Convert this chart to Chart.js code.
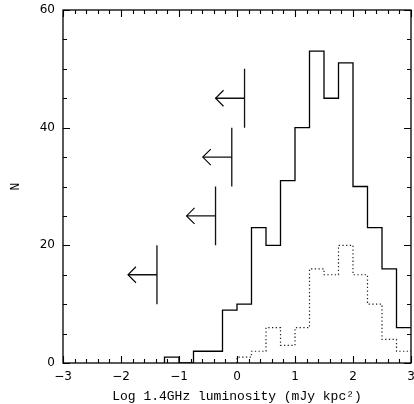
<!DOCTYPE html>
<html>
<head>
<meta charset="utf-8">
<script src="https://cdn.jsdelivr.net/npm/chart.js@4.4.1/dist/chart.umd.min.js"></script>
<style>
  html, body { margin: 0; padding: 0; background: #fff; }
  canvas { display: block; }
</style>
</head>
<body>
<canvas id="lumChart" width="414" height="404"></canvas>
<script>
// histogram bins (left edges), width 0.25 dex
const BIN_WIDTH = 0.25;
const allEdges = [-1.25, -1.0, -0.75, -0.5, -0.25, 0, 0.25, 0.5, 0.75, 1.0, 1.25, 1.5, 1.75, 2.0, 2.25, 2.5, 2.75];
const allCounts = [1, 0, 2, 2, 9, 10, 23, 20, 31, 40, 53, 45, 51, 30, 23, 16, 6];
const subEdges = [0, 0.25, 0.5, 0.75, 1.0, 1.25, 1.5, 1.75, 2.0, 2.25, 2.5, 2.75];
const subCounts = [1, 2, 6, 3, 6, 16, 15, 20, 15, 10, 4, 2];

// upper limits: x of the bar, y centre, bar half-height, arrow length
const limitX = [0.13, -0.09, -0.37, -1.38];
const limitY = [45, 35, 25, 15];
const LIMIT_HALF = 5;
const LIMIT_LEN = 0.5;

const X_MIN = -3, X_MAX = 3, Y_MIN = 0, Y_MAX = 60;

// points for a 'before' stepped line: the level is held up to each point
function stepPoints(edges, counts) {
  const pts = [{ x: edges[0], y: 0 }];
  edges.forEach((e, i) => {
    pts.push({ x: e, y: counts[i] });
    pts.push({ x: e + BIN_WIDTH, y: counts[i] });
  });
  return pts;
}

function limitPoints() {
  const pts = [];
  limitX.forEach((x, i) => {
    const y = limitY[i];
    pts.push({ x: x, y: y - LIMIT_HALF }, { x: x, y: y + LIMIT_HALF }, { x: x, y: null });
    pts.push({ x: x, y: y }, { x: x - LIMIT_LEN, y: y }, { x: x, y: null });
  });
  return pts;
}

function fmt(v) {
  return String(v).replace('-', '\u2212');
}

// frame, inward ticks and arrow heads
const framePlugin = {
  id: 'frame',
  afterDatasetsDraw(chart) {
    const { ctx, chartArea: a, scales } = chart;
    const xs = scales.x, ys = scales.y;
    ctx.save();
    ctx.strokeStyle = '#000';
    ctx.lineWidth = 1.3;
    ctx.strokeRect(a.left, a.top, a.right - a.left, a.bottom - a.top);

    ctx.lineWidth = 1.1;
    ctx.beginPath();
    for (let k = 0; k <= 30; k++) {
      const v = X_MIN + k * 0.2;
      const len = k % 5 === 0 ? 7 : 4;
      const px = Math.round(xs.getPixelForValue(v)) + 0.5;
      ctx.moveTo(px, a.bottom); ctx.lineTo(px, a.bottom - len);
      ctx.moveTo(px, a.top); ctx.lineTo(px, a.top + len);
    }
    for (let k = 0; k <= 12; k++) {
      const v = Y_MIN + k * 5;
      const len = k % 4 === 0 ? 7 : 4;
      const py = Math.round(ys.getPixelForValue(v)) + 0.5;
      ctx.moveTo(a.left, py); ctx.lineTo(a.left + len, py);
      ctx.moveTo(a.right, py); ctx.lineTo(a.right - len, py);
    }
    ctx.stroke();

    ctx.lineWidth = 1.1;
    ctx.beginPath();
    limitX.forEach((x, i) => {
      const px = xs.getPixelForValue(x - LIMIT_LEN);
      const py = ys.getPixelForValue(limitY[i]);
      ctx.moveTo(px + 8, py - 8);
      ctx.lineTo(px, py);
      ctx.lineTo(px + 8, py + 8);
    });
    ctx.stroke();
    ctx.restore();
  }
};

const tickFont = { family: 'DejaVu Sans', size: 12 };

new Chart(document.getElementById('lumChart').getContext('2d'), {
  type: 'line',
  data: {
    datasets: [
      {
        label: 'all',
        data: stepPoints(allEdges, allCounts),
        stepped: 'before',
        borderColor: '#000',
        borderWidth: 1.3,
        pointRadius: 0,
        fill: false,
      },
      {
        label: 'subsample',
        data: stepPoints(subEdges, subCounts),
        stepped: 'before',
        borderColor: '#222',
        borderWidth: 1.2,
        borderDash: [1.3, 2.4],
        pointRadius: 0,
        fill: false,
      },
      {
        label: 'limits',
        data: limitPoints(),
        borderColor: '#111',
        borderWidth: 1.3,
        pointRadius: 0,
        spanGaps: false,
        fill: false,
      },
    ],
  },
  options: {
    responsive: false,
    animation: false,
    devicePixelRatio: 1,
    layout: { padding: { top: 10, right: 3, left: 0, bottom: 0 } },
    plugins: { legend: { display: false }, tooltip: { enabled: false } },
    scales: {
      x: {
        type: 'linear',
        min: X_MIN,
        max: X_MAX,
        grid: { display: false, drawTicks: false },
        border: { display: false },
        ticks: { stepSize: 1, color: '#000', font: tickFont, padding: 7, maxRotation: 0, callback: fmt },
        title: {
          display: true,
          text: 'Log 1.4GHz luminosity (mJy kpc\u00b2)',
          color: '#000',
          font: { family: 'Liberation Mono', size: 13 },
          padding: { top: 0, bottom: 0 },
        },
        afterFit(scale) {
          scale.height = 41;
          scale.paddingLeft = 0;
          scale.paddingRight = 0;
        },
      },
      y: {
        type: 'linear',
        min: Y_MIN,
        max: Y_MAX,
        grid: { display: false, drawTicks: false },
        border: { display: false },
        ticks: { stepSize: 20, color: '#000', font: tickFont, padding: 8, callback: fmt },
        title: {
          display: true,
          text: 'N',
          color: '#000',
          font: { family: 'Liberation Mono', size: 13 },
          padding: { top: 8, bottom: 0 },
        },
        afterFit(scale) {
          scale.width = 63;
          scale.paddingTop = 0;
          scale.paddingBottom = 0;
        },
      },
    },
  },
  plugins: [framePlugin],
});
</script>
</body>
</html>
